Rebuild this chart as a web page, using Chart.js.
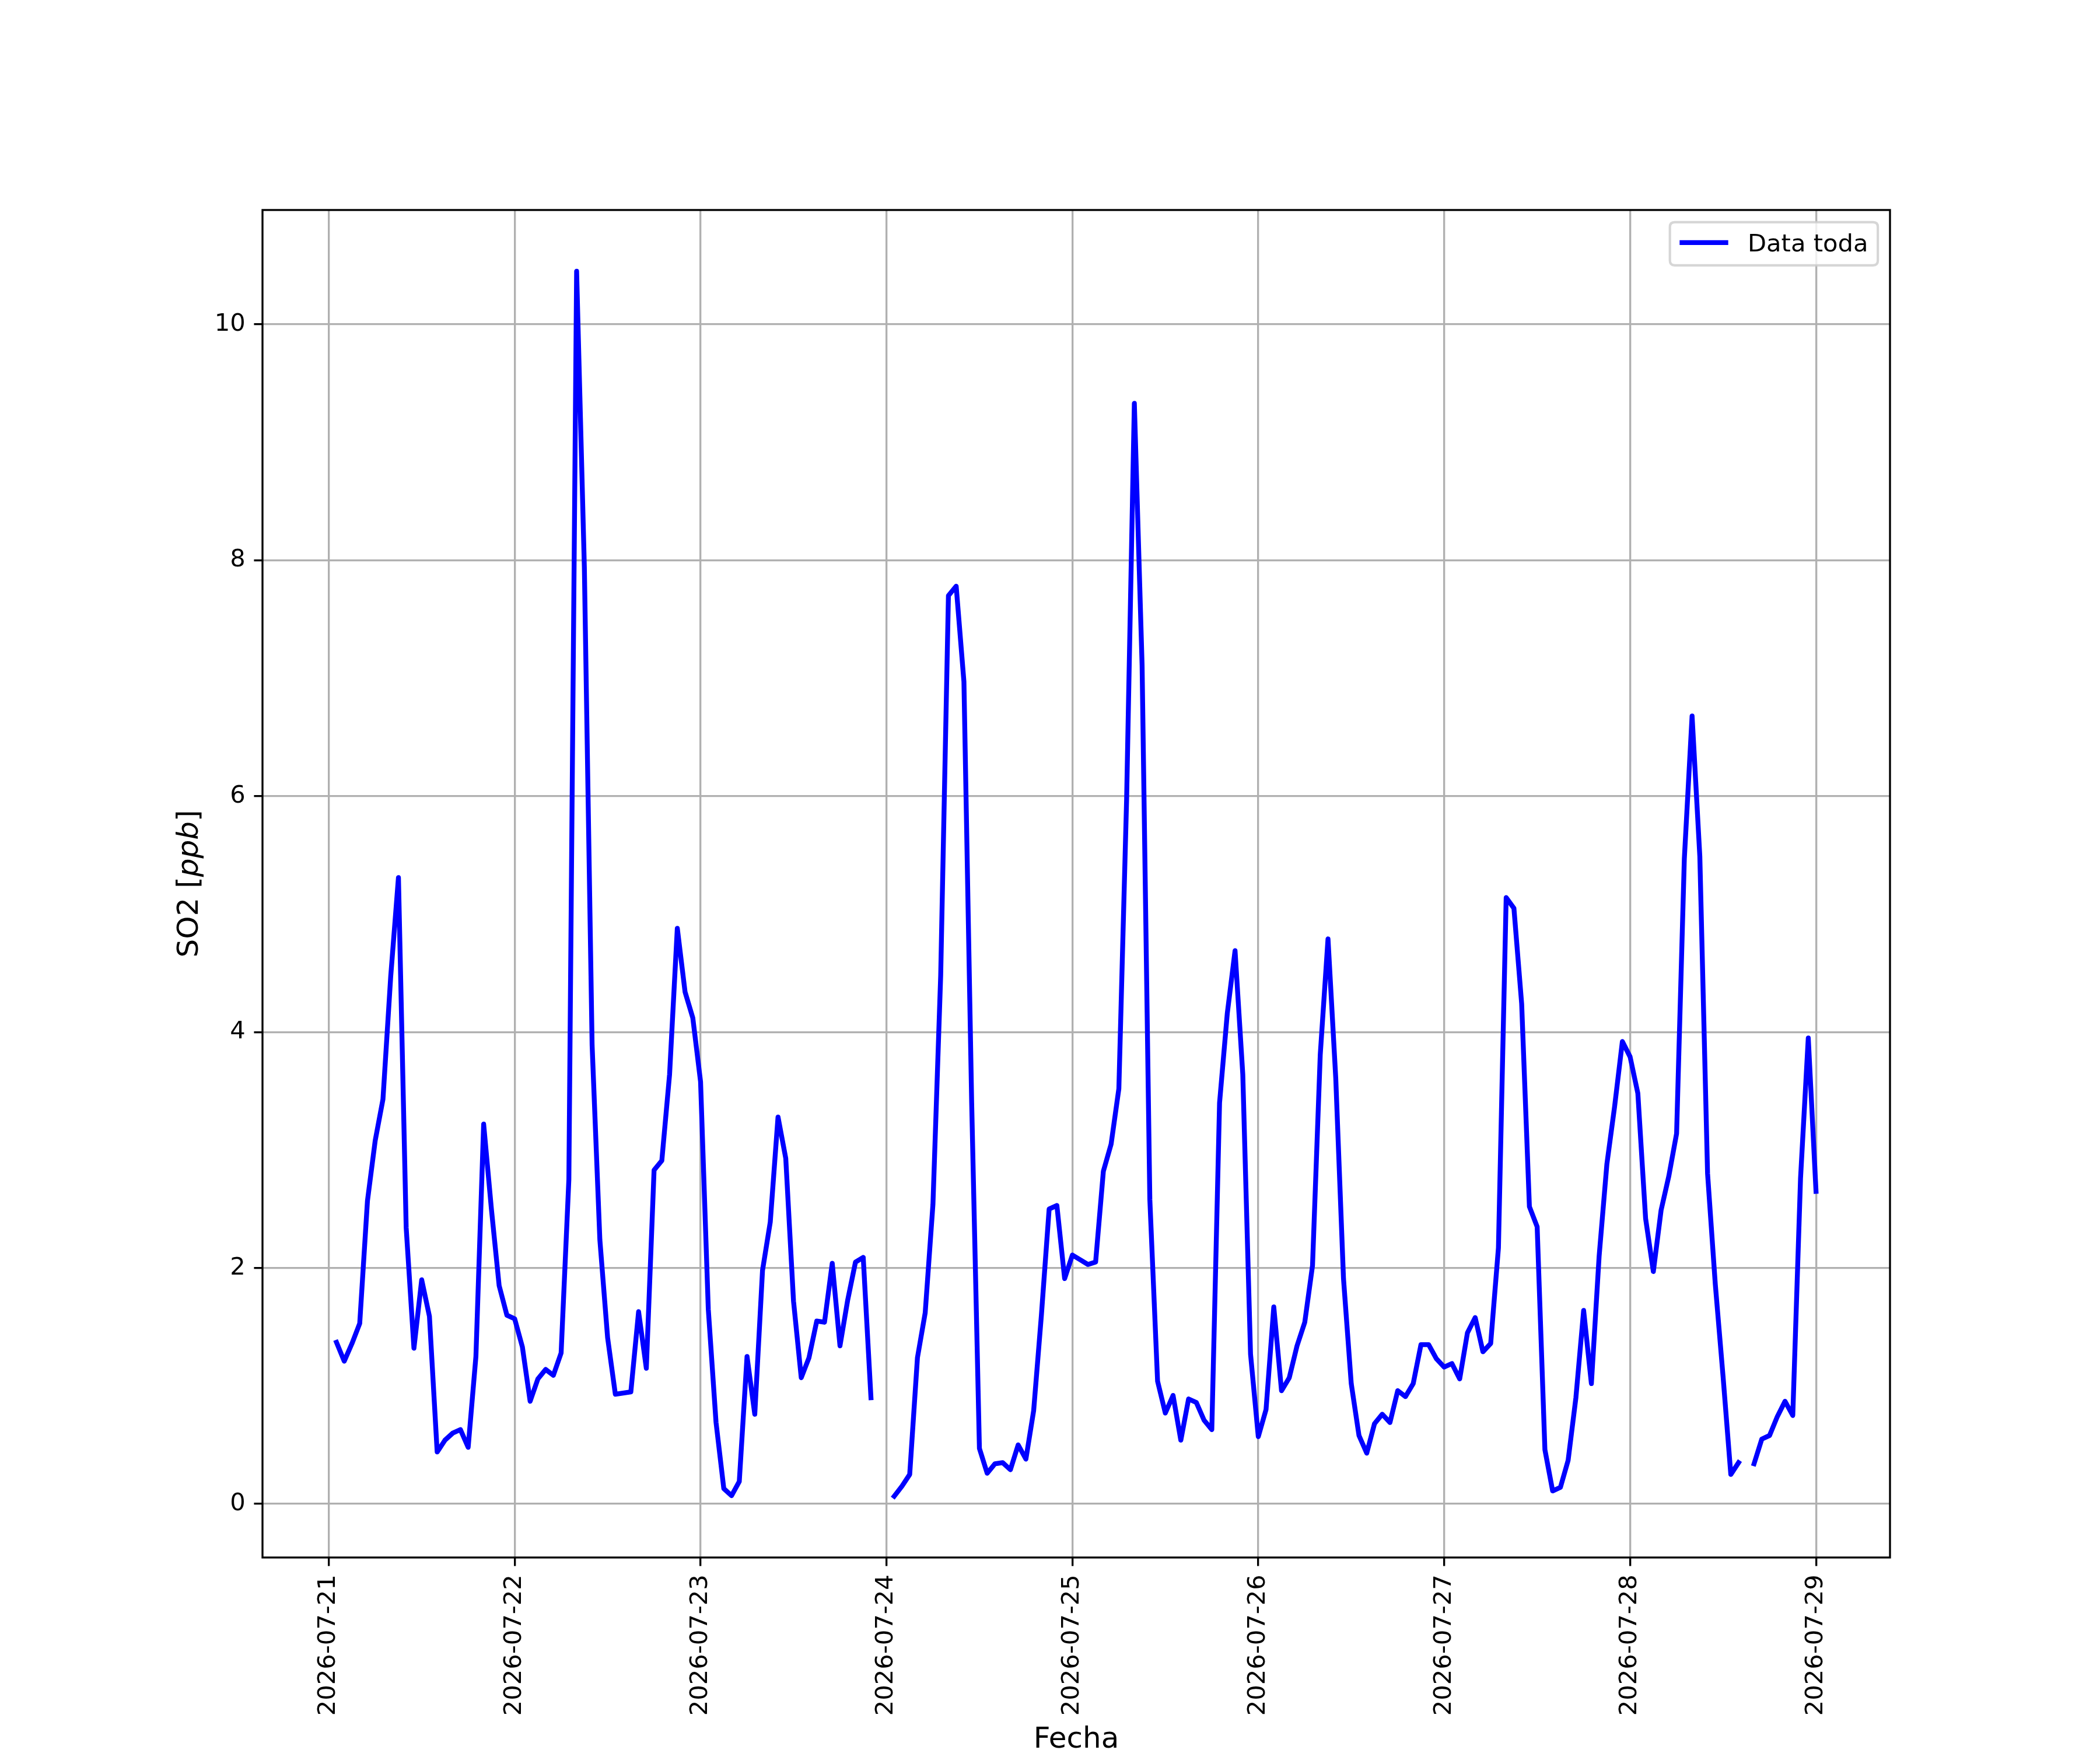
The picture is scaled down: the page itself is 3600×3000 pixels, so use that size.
<!DOCTYPE html>
<html>
<head>
<meta charset="utf-8">
<script src="https://cdn.jsdelivr.net/npm/chart.js@4.4.1/dist/chart.umd.min.js"></script>
<style>
  html, body { margin: 0; padding: 0; background: #ffffff; }
  #wrap { width: 3600px; height: 3000px; position: relative; }
  canvas { display: block; }
</style>
</head>
<body>
<div id="wrap"><canvas id="c" width="3600" height="3000"></canvas></div>
<script>
// ---- Data (hourly SO2, ppb). Each array = hours 01:00 .. 24:00 of that day ----
const tickLabels = ["2026-07-21","2026-07-22","2026-07-23","2026-07-24","2026-07-25","2026-07-26","2026-07-27","2026-07-28","2026-07-29"];
const seriesLabel = "Data toda";
const xTitle = "Fecha";

const so2_0721 = [1.37,1.21,1.36,1.53,2.57,3.08,3.43,4.47,5.31,2.34,1.32,1.90,1.59,0.44,0.54,0.60,0.63,0.48,1.25,3.22,2.50,1.85,1.60,1.57];
const so2_0722 = [1.33,0.87,1.06,1.14,1.09,1.28,2.75,10.45,7.94,3.89,2.24,1.41,0.93,0.94,0.95,1.63,1.15,2.83,2.91,3.64,4.88,4.34,4.12,3.58];
const so2_0723 = [1.65,0.69,0.13,0.07,0.19,1.25,0.76,1.98,2.39,3.28,2.93,1.72,1.07,1.24,1.55,1.54,2.04,1.34,1.73,2.05,2.09,0.90,null,null];
const so2_0724 = [0.065,0.15,0.25,1.24,1.62,2.54,4.48,7.70,7.78,6.97,3.40,0.47,0.26,0.34,0.35,0.29,0.50,0.38,0.79,1.60,2.50,2.53,1.91,2.11];
const so2_0725 = [2.07,2.03,2.05,2.82,3.05,3.52,5.97,9.33,7.11,2.58,1.04,0.77,0.92,0.54,0.89,0.86,0.71,0.63,3.40,4.16,4.69,3.64,1.27,0.57];
const so2_0726 = [0.80,1.67,0.96,1.07,1.34,1.54,2.02,3.81,4.79,3.61,1.91,1.02,0.58,0.43,0.68,0.76,0.69,0.96,0.91,1.02,1.35,1.35,1.23,1.16];
const so2_0727 = [1.19,1.06,1.45,1.58,1.29,1.36,2.17,5.14,5.05,4.24,2.52,2.35,0.46,0.11,0.14,0.37,0.90,1.64,1.02,2.10,2.88,3.37,3.92,3.79];
const so2_0728 = [3.48,2.42,1.97,2.49,2.78,3.14,5.47,6.68,5.49,2.80,1.86,1.08,0.25,0.35,null,0.34,0.55,0.58,0.74,0.87,0.75,2.76,3.95,2.65];

const days = [so2_0721, so2_0722, so2_0723, so2_0724, so2_0725, so2_0726, so2_0727, so2_0728];

// Build {x: hours since 2026-07-21 00:00, y: value}
const points = [];
days.forEach((arr, d) => arr.forEach((v, i) => points.push({x: d * 24 + i + 1, y: v})));

const valid = points.filter(p => p.y !== null);
const xs = valid.map(p => p.x), ys = valid.map(p => p.y);
const xMin0 = Math.min(...xs), xMax0 = Math.max(...xs);
const yMin0 = Math.min(...ys), yMax0 = Math.max(...ys);
const xPad = 0.05 * (xMax0 - xMin0), yPad = 0.05 * (yMax0 - yMin0);

// ---- Sizes (matplotlib 300 dpi equivalents) ----
const PT = 300 / 72;
const FS = 10 * PT;       // tick / legend font
const FS_LABEL = 12 * PT; // axis labels
const LW_SPINE = 0.8 * PT;
const TICK_LEN = 3.5 * PT;
const TICK_PAD = 3.5 * PT;

const FONT = '"DejaVu Sans", "Liberation Sans", sans-serif';

const frame = {
  id: 'mplFrame',
  afterDraw(chart) {
    const {ctx, chartArea: a} = chart;
    ctx.save();
    // spines
    ctx.strokeStyle = '#000000';
    ctx.lineWidth = LW_SPINE;
    ctx.lineJoin = 'miter';
    ctx.strokeRect(a.left, a.top, a.right - a.left, a.bottom - a.top);

    // legend (upper right)
    const ds = chart.data.datasets[0];
    ctx.font = `${FS}px ${FONT}`;
    const tw = ctx.measureText(ds.label).width;
    const pad = 0.4 * FS, hl = 2.0 * FS, htp = 0.8 * FS, bap = 0.5 * FS;
    const boxW = 2 * pad + hl + htp + tw;
    const boxH = 74;
    const x1 = a.right - bap - boxW, y1 = a.top + bap;
    const r = 0.2 * FS;
    ctx.beginPath();
    ctx.moveTo(x1 + r, y1);
    ctx.lineTo(x1 + boxW - r, y1);
    ctx.quadraticCurveTo(x1 + boxW, y1, x1 + boxW, y1 + r);
    ctx.lineTo(x1 + boxW, y1 + boxH - r);
    ctx.quadraticCurveTo(x1 + boxW, y1 + boxH, x1 + boxW - r, y1 + boxH);
    ctx.lineTo(x1 + r, y1 + boxH);
    ctx.quadraticCurveTo(x1, y1 + boxH, x1, y1 + boxH - r);
    ctx.lineTo(x1, y1 + r);
    ctx.quadraticCurveTo(x1, y1, x1 + r, y1);
    ctx.closePath();
    ctx.fillStyle = 'rgba(255,255,255,0.8)';
    ctx.fill();
    ctx.strokeStyle = 'rgba(204,204,204,0.8)';
    ctx.lineWidth = 1.0 * PT;
    ctx.stroke();
    // handle
    const ly = y1 + 35;
    ctx.beginPath();
    ctx.moveTo(x1 + pad, ly);
    ctx.lineTo(x1 + pad + hl, ly);
    ctx.strokeStyle = ds.borderColor;
    ctx.lineWidth = ds.borderWidth;
    ctx.lineCap = 'butt';
    ctx.stroke();
    ctx.fillStyle = '#000000';
    ctx.textBaseline = 'alphabetic';
    ctx.textAlign = 'left';
    ctx.fillText(ds.label, x1 + pad + hl + htp, y1 + 50);

    // x axis title
    ctx.font = `${FS_LABEL}px ${FONT}`;
    ctx.textAlign = 'center';
    ctx.fillText(xTitle, (a.left + a.right) / 2, 2996);

    // y axis title: "SO2 [" + italic "ppb" + "]"
    const parts = [
      {t: 'SO2 [', f: `${FS_LABEL}px ${FONT}`},
      {t: 'ppb', f: `italic ${FS_LABEL}px ${FONT}`},
      {t: ']', f: `${FS_LABEL}px ${FONT}`}
    ];
    let total = 0;
    parts.forEach(p => { ctx.font = p.f; p.w = ctx.measureText(p.t).width; total += p.w; });
    ctx.translate(339, (a.top + a.bottom) / 2);
    ctx.rotate(-Math.PI / 2);
    ctx.textAlign = 'left';
    let cx = -total / 2;
    parts.forEach(p => { ctx.font = p.f; ctx.fillText(p.t, cx, 0); cx += p.w; });
    ctx.restore();
  }
};

new Chart(document.getElementById('c'), {
  type: 'line',
  data: {
    datasets: [{
      label: seriesLabel,
      data: points,
      borderColor: '#0000ff',
      backgroundColor: '#0000ff',
      borderWidth: 2 * PT,
      pointRadius: 0,
      pointHoverRadius: 0,
      tension: 0,
      spanGaps: false,
      fill: false,
      borderCapStyle: 'square',
      borderJoinStyle: 'round'
    }]
  },
  options: {
    responsive: false,
    animation: false,
    devicePixelRatio: 1,
    events: [],
    layout: { padding: { top: 360, right: 360, left: 0, bottom: 0 } },
    plugins: { legend: { display: false }, tooltip: { enabled: false }, title: { display: false } },
    scales: {
      x: {
        type: 'linear',
        min: xMin0 - xPad,
        max: xMax0 + xPad,
        afterFit: (s) => { s.height = 330; },
        border: { display: false },
        grid: {
          color: '#b0b0b0', lineWidth: LW_SPINE,
          drawTicks: true, tickLength: TICK_LEN, tickColor: '#000000', tickWidth: LW_SPINE
        },
        ticks: {
          stepSize: 24,
          includeBounds: false,
          autoSkip: false,
          minRotation: 90, maxRotation: 90,
          padding: TICK_PAD,
          color: '#000000',
          font: { family: FONT, size: FS },
          callback: (v) => {
            const k = Math.round(v / 24);
            return (Math.abs(v - k * 24) < 1e-6 && tickLabels[k] !== undefined) ? tickLabels[k] : '';
          }
        }
      },
      y: {
        type: 'linear',
        min: yMin0 - yPad,
        max: yMax0 + yPad,
        afterFit: (s) => { s.width = 450; },
        border: { display: false },
        grid: {
          color: '#b0b0b0', lineWidth: LW_SPINE,
          drawTicks: true, tickLength: TICK_LEN, tickColor: '#000000', tickWidth: LW_SPINE
        },
        ticks: {
          stepSize: 2,
          includeBounds: false,
          padding: TICK_PAD,
          color: '#000000',
          font: { family: FONT, size: FS },
          callback: (v) => String(Math.round(v))
        }
      }
    }
  },
  plugins: [frame]
});
</script>
</body>
</html>
